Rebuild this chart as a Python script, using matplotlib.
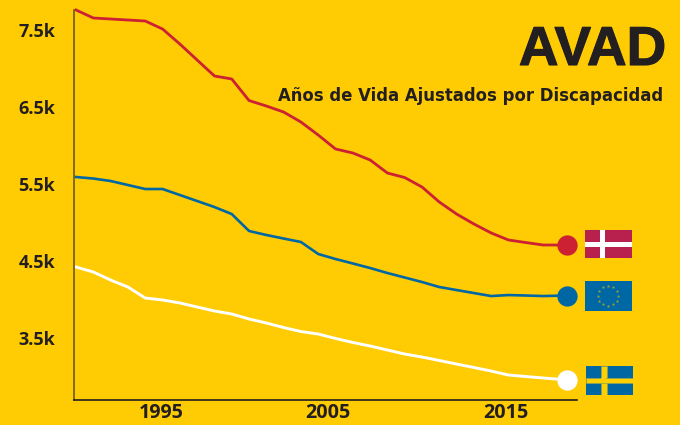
import numpy as np
import matplotlib
matplotlib.use('Agg')
import matplotlib.pyplot as plt
from matplotlib.patches import Rectangle
import matplotlib.patheffects as pe

BG = '#ffcc03'
INK = '#231f20'
W, H = 680, 425

years = list(range(1990, 2018)) + [2018.4]
# Dinamarca
denmark = [7760, 7656, 7643, 7630, 7617, 7513, 7318, 7110, 6903, 6864,
           6584, 6513, 6435, 6305, 6136, 5955, 5903, 5812, 5643, 5584,
           5461, 5266, 5110, 4981, 4864, 4773, 4740, 4708, 4708]
# Union Europea
eu = [5591, 5571, 5539, 5487, 5435, 5435, 5357, 5279, 5201, 5110,
      4890, 4838, 4792, 4747, 4591, 4526, 4468, 4409, 4344, 4286,
      4227, 4162, 4123, 4084, 4045, 4058, 4052, 4045, 4052]
# Suecia
sweden = [4422, 4357, 4253, 4162, 4019, 3994, 3955, 3903, 3851, 3812,
          3747, 3695, 3636, 3584, 3552, 3494, 3442, 3396, 3344, 3292,
          3253, 3208, 3162, 3117, 3071, 3019, 3000, 2981, 2955]

y_ticks = [3500, 4500, 5500, 6500, 7500]
y_labels = ['3.5k', '4.5k', '5.5k', '6.5k', '7.5k']
x_ticks = [1994.9, 2004.55, 2014.85]
x_labels = ['1995', '2005', '2015']

title = 'AVAD'
subtitle = 'Años de Vida Ajustados por Discapacidad'

red = '#cc2033'
blue = '#0067a5'
white = '#ffffff'
crimson = '#b8214e'
star = '#9aa33a'


def px_axes(x0, y0, x1, y1):
    # axes from pixel box, y measured from the top
    a = fig.add_axes([x0 / W, 1 - y1 / H, (x1 - x0) / W, (y1 - y0) / H])
    a.set_xlim(x0, x1)
    a.set_ylim(y1, y0)
    a.axis('off')
    return a


fig = plt.figure(figsize=(6.8, 4.25), dpi=100, facecolor=BG)
ax = fig.add_axes([74 / W, 1 - 400 / H, (577 - 74) / W, 390 / H], facecolor=BG)
ax.set_xlim(1989.88, 2018.96)
ax.set_ylim(2695, 7760)

for values, color, lw in [(denmark, red, 2.0), (eu, blue, 1.9), (sweden, white, 2.1)]:
    ax.plot(years, values, color=color, lw=lw, solid_joinstyle='round', clip_on=False)
    ax.plot(years[-1], values[-1], 'o', color=color, ms=14.6, mew=0, clip_on=False, zorder=4)

for s in ['top', 'right']:
    ax.spines[s].set_visible(False)
ax.spines['left'].set_color('#6b5a10')
ax.spines['left'].set_linewidth(1.2)
ax.spines['bottom'].set_color(INK)
ax.spines['bottom'].set_linewidth(1.2)

ax.set_yticks(y_ticks)
ax.set_yticklabels(y_labels, family='Open Sans', weight='bold', fontsize=13, color=INK)
ax.set_xticks(x_ticks)
ax.set_xticklabels(x_labels, family='Open Sans', weight='bold', fontsize=14.2, color=INK)
ax.tick_params(axis='y', length=0, pad=13.5)
ax.tick_params(axis='x', length=0, pad=2)

fig.text(666 / W, 1 - 65 / H, title, ha='right', va='baseline', family='Liberation Sans',
         weight='bold', fontsize=39.5, color=INK,
         path_effects=[pe.withStroke(linewidth=0.8, foreground=INK)])
fig.text(663 / W, 1 - 101 / H, subtitle, ha='right', va='baseline', family='DejaVu Sans',
         weight='bold', fontsize=11.9, color=INK)

# flags
a = px_axes(585, 230, 632, 258)
a.add_patch(Rectangle((585, 230), 47, 28, color=crimson, lw=0))
a.add_patch(Rectangle((600.3, 230), 4.7, 28, color='white', lw=0))
a.add_patch(Rectangle((585, 241.7), 47, 5, color='white', lw=0))

a = px_axes(585, 281, 632, 311)
a.add_patch(Rectangle((585, 281), 47, 30, color=blue, lw=0))
t = np.arange(12) * np.pi / 6
a.scatter(608 + 10 * np.cos(t), 295.8 + 10 * np.sin(t), marker='*', s=7, color=star, lw=0)

a = px_axes(586, 366, 633, 395)
a.add_patch(Rectangle((586, 366), 47, 29, color=blue, lw=0))
a.add_patch(Rectangle((601, 366), 5.7, 29, facecolor='#ffd000', edgecolor='#8aa35a', lw=0.5))
a.add_patch(Rectangle((586, 377.7), 47, 5.6, facecolor='#ffd000', edgecolor='#8aa35a', lw=0.5))
a.add_patch(Rectangle((601.3, 377.9), 5.1, 5.2, facecolor='#ffd000', lw=0))

fig.savefig('out.png', dpi=100, facecolor=BG)
